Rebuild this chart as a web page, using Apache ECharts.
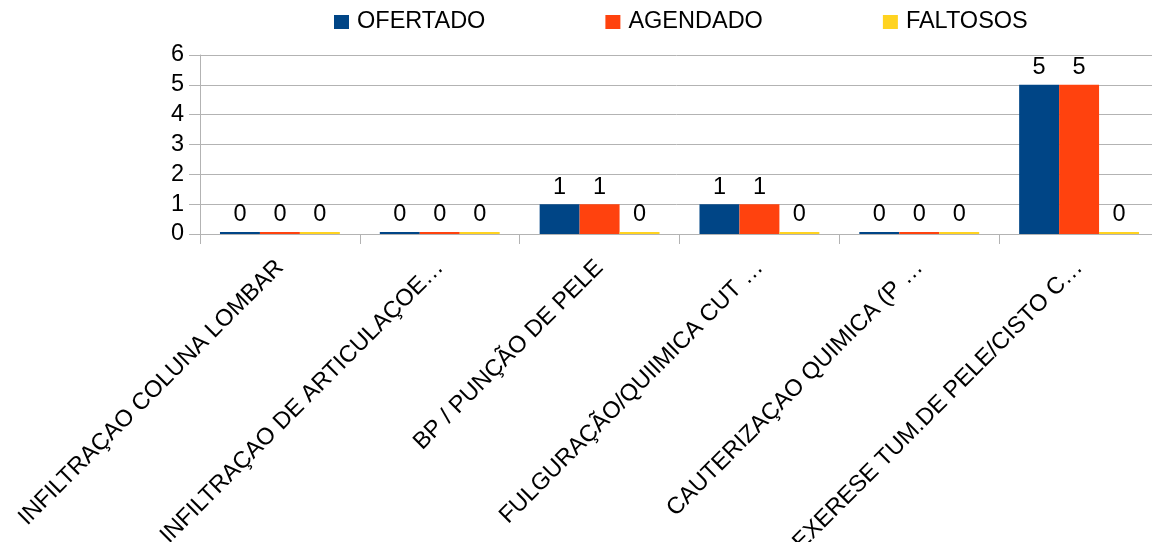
<!DOCTYPE html>
<html>
<head>
<meta charset="utf-8">
<script src="https://cdn.jsdelivr.net/npm/echarts@6/dist/echarts.min.js"></script>
<style>
html,body{margin:0;padding:0;background:#fff;}
#chart{width:1152px;height:542px;}
</style>
</head>
<body>
<div id="chart"></div>
<script>
// categorias (rótulos cortados como no original)
var categorias = [
  'INFILTRAÇAO COLUNA LOMBAR',
  'INFILTRAÇAO DE ARTICULAÇOE…',
  'BP / PUNÇÃO DE PELE',
  'FULGURAÇÃO/QUIIMICA CUT …',
  'CAUTERIZAÇAO QUIMICA (P …',
  'EXERESE TUM.DE PELE/CISTO C…'
];
var ofertado = [0, 0, 1, 1, 0, 5];
var agendado = [0, 0, 1, 1, 0, 5];
var faltosos = [0, 0, 0, 0, 0, 0];
var yTicks = [0, 1, 2, 3, 4, 5, 6];

var fonte = '"Liberation Sans", Arial, sans-serif';
var tamanho = 23.5;

function serie(nome, dados, cor){
  return {
    name: nome,
    type: 'bar',
    data: dados,
    barGap: '0%',
    barCategoryGap: '25%',
    barMinHeight: 2,
    z: 3,
    itemStyle: { color: cor },
    label: {
      show: true,
      position: 'top',
      distance: 5,
      color: '#000',
      fontSize: tamanho,
      fontFamily: fonte
    }
  };
}

var chart = echarts.init(document.getElementById('chart'));
chart.setOption({
  animation: false,
  textStyle: { fontFamily: fonte },
  legend: {
    top: 10,
    left: 334,
    padding: 0,
    itemWidth: 15,
    itemHeight: 14,
    itemGap: 120,
    icon: 'rect',
    textStyle: { fontSize: tamanho, color: '#000', fontFamily: fonte, padding: [0, 0, 0, 3] },
    data: ['OFERTADO', 'AGENDADO', 'FALTOSOS']
  },
  grid: { left: 200, right: -7, top: 55, bottom: 308, outerBoundsMode: 'none', containLabel: false },
  xAxis: {
    type: 'category',
    data: categorias,
    z: 1,
    axisLine: { lineStyle: { color: '#b3b3b3' } },
    axisTick: { show: true, length: 10, lineStyle: { color: '#b3b3b3' } },
    axisLabel: {
      rotate: 45,
      interval: 0,
      margin: 30,
      fontSize: tamanho,
      color: '#000',
      fontFamily: fonte
    }
  },
  yAxis: {
    type: 'value',
    min: yTicks[0],
    max: yTicks[yTicks.length - 1],
    interval: 1,
    axisLine: { show: true, lineStyle: { color: '#b3b3b3' } },
    axisTick: { show: true, length: 11, lineStyle: { color: '#b3b3b3' } },
    axisLabel: { fontSize: tamanho, color: '#000', margin: 16, fontFamily: fonte },
    splitLine: { lineStyle: { color: '#b3b3b3' } }
  },
  series: [
    serie('OFERTADO', ofertado, '#004586'),
    serie('AGENDADO', agendado, '#ff420e'),
    serie('FALTOSOS', faltosos, '#ffd320')
  ]
});
</script>
</body>
</html>
